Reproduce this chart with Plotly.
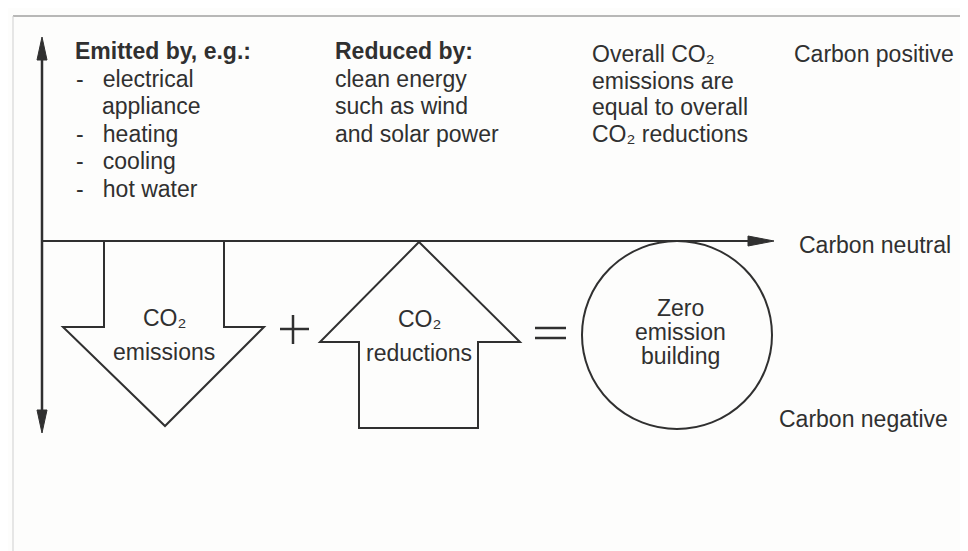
import plotly.graph_objects as go

W, H = 968, 551
OFF = 8  # browser body margin compensation

# ---- text content ----
emitted_title = "Emitted by, e.g.:"
emitted_items = ["electrical", "appliance", "heating", "cooling", "hot water"]
emitted_bullets = [True, False, True, True, True]
reduced_title = "Reduced by:"
reduced_lines = ["clean energy", "such as wind", "and solar power"]
overall_lines = ["Overall CO₂", "emissions are", "equal to overall", "CO₂ reductions"]
axis_labels = ["Carbon positive", "Carbon neutral", "Carbon negative"]
emis_arrow_text = ["CO₂", "emissions"]
red_arrow_text = ["CO₂", "reductions"]
circle_text = ["Zero", "emission", "building"]

# ---- geometry (pixel coordinates) ----
down_arrow = [(104, 241), (224, 241), (224, 327), (264, 327), (165, 426), (63, 327), (104, 327)]
up_arrow = [(419, 242), (520, 342), (478, 342), (478, 428), (359, 428), (359, 342), (320, 342)]
circle_box = (582, 241, 772, 429)

INK = "#303030"
FONT = "Liberation Sans, Arial, sans-serif"

fig = go.Figure()
fig.add_trace(go.Scatter(x=[OFF, W], y=[OFF, H], mode="markers", marker=dict(opacity=0),
                         hoverinfo="skip", showlegend=False))

shapes = []
def path_of(pts, close=True):
    s = "M " + " L ".join(f"{x},{y}" for x, y in pts)
    return s + (" Z" if close else "")

# frame lines (scan edges)
shapes.append(dict(type="line", x0=13, y0=16, x1=W + OFF, y1=16, line=dict(color="#a0a0a0", width=1.5)))
shapes.append(dict(type="line", x0=13, y0=16, x1=13, y1=H + OFF, line=dict(color="#cfcfcf", width=1)))

# vertical axis
shapes.append(dict(type="line", x0=42, y0=55, x1=42, y1=418, line=dict(color=INK, width=2.5)))
shapes.append(dict(type="path", path=path_of([(42, 37), (47, 60), (37, 60)]), fillcolor=INK, line=dict(color=INK, width=1)))
shapes.append(dict(type="path", path=path_of([(42, 433), (47, 410), (37, 410)]), fillcolor=INK, line=dict(color=INK, width=1)))
# horizontal axis
shapes.append(dict(type="line", x0=42, y0=241, x1=752, y1=241, line=dict(color=INK, width=2)))
shapes.append(dict(type="path", path=path_of([(774, 241), (748, 236), (748, 246)]), fillcolor=INK, line=dict(color=INK, width=1)))

# arrows
shapes.append(dict(type="path", path=path_of(down_arrow), line=dict(color=INK, width=2), fillcolor="rgba(0,0,0,0)"))
shapes.append(dict(type="path", path=path_of(up_arrow), line=dict(color=INK, width=2), fillcolor="rgba(0,0,0,0)"))
# circle
x0, y0, x1, y1 = circle_box
shapes.append(dict(type="circle", x0=x0, y0=y0, x1=x1, y1=y1, line=dict(color=INK, width=2)))
# plus sign
shapes.append(dict(type="line", x0=280, y0=329, x1=309, y1=329, line=dict(color=INK, width=2.5)))
shapes.append(dict(type="line", x0=293, y0=315, x1=293, y1=344, line=dict(color=INK, width=2.5)))
# equals sign
shapes.append(dict(type="line", x0=535, y0=328, x1=566, y1=328, line=dict(color=INK, width=2.5)))
shapes.append(dict(type="line", x0=535, y0=338, x1=566, y1=338, line=dict(color=INK, width=2.5)))

ann = []
def txt(x, y, t, size=23, bold=False, xanchor="left"):
    ann.append(dict(x=x, y=y, text=(f"<b>{t}</b>" if bold else t), showarrow=False,
                    xanchor=xanchor, yanchor="middle", font=dict(family=FONT, size=size, color=INK)))

LS = 27.5
TOP = 51
NB = "\u00a0"
txt(73, TOP, emitted_title, bold=True)
for i, (item, b) in enumerate(zip(emitted_items, emitted_bullets)):
    y = TOP + LS * (i + 1)
    if b:
        txt(74, y, "-" + NB * 3 + item)
    else:
        txt(100, y, item)

txt(333, TOP, reduced_title, bold=True)
for i, line in enumerate(reduced_lines):
    txt(333, TOP + LS * (i + 1), line)

for i, line in enumerate(overall_lines):
    txt(590, TOP + 3 + 26.5 * i, line)

txt(792, 54, axis_labels[0])
txt(797, 245, axis_labels[1])
txt(777, 419, axis_labels[2])

txt(164, 318, emis_arrow_text[0], xanchor="center")
txt(164, 352, emis_arrow_text[1], xanchor="center")
txt(419, 319, red_arrow_text[0], xanchor="center")
txt(419, 353, red_arrow_text[1], xanchor="center")
for i, line in enumerate(circle_text):
    txt(680, 308 + 24 * i, line, xanchor="center")

fig.update_layout(
    width=W, height=H, margin=dict(l=0, r=0, t=0, b=0),
    paper_bgcolor="#fdfdfc", plot_bgcolor="#fdfdfc",
    xaxis=dict(range=[OFF, W + OFF], visible=False, fixedrange=True),
    yaxis=dict(range=[H + OFF, OFF], visible=False, fixedrange=True),
    shapes=shapes, annotations=ann, showlegend=False,
)
fig.write_html("out.html")
